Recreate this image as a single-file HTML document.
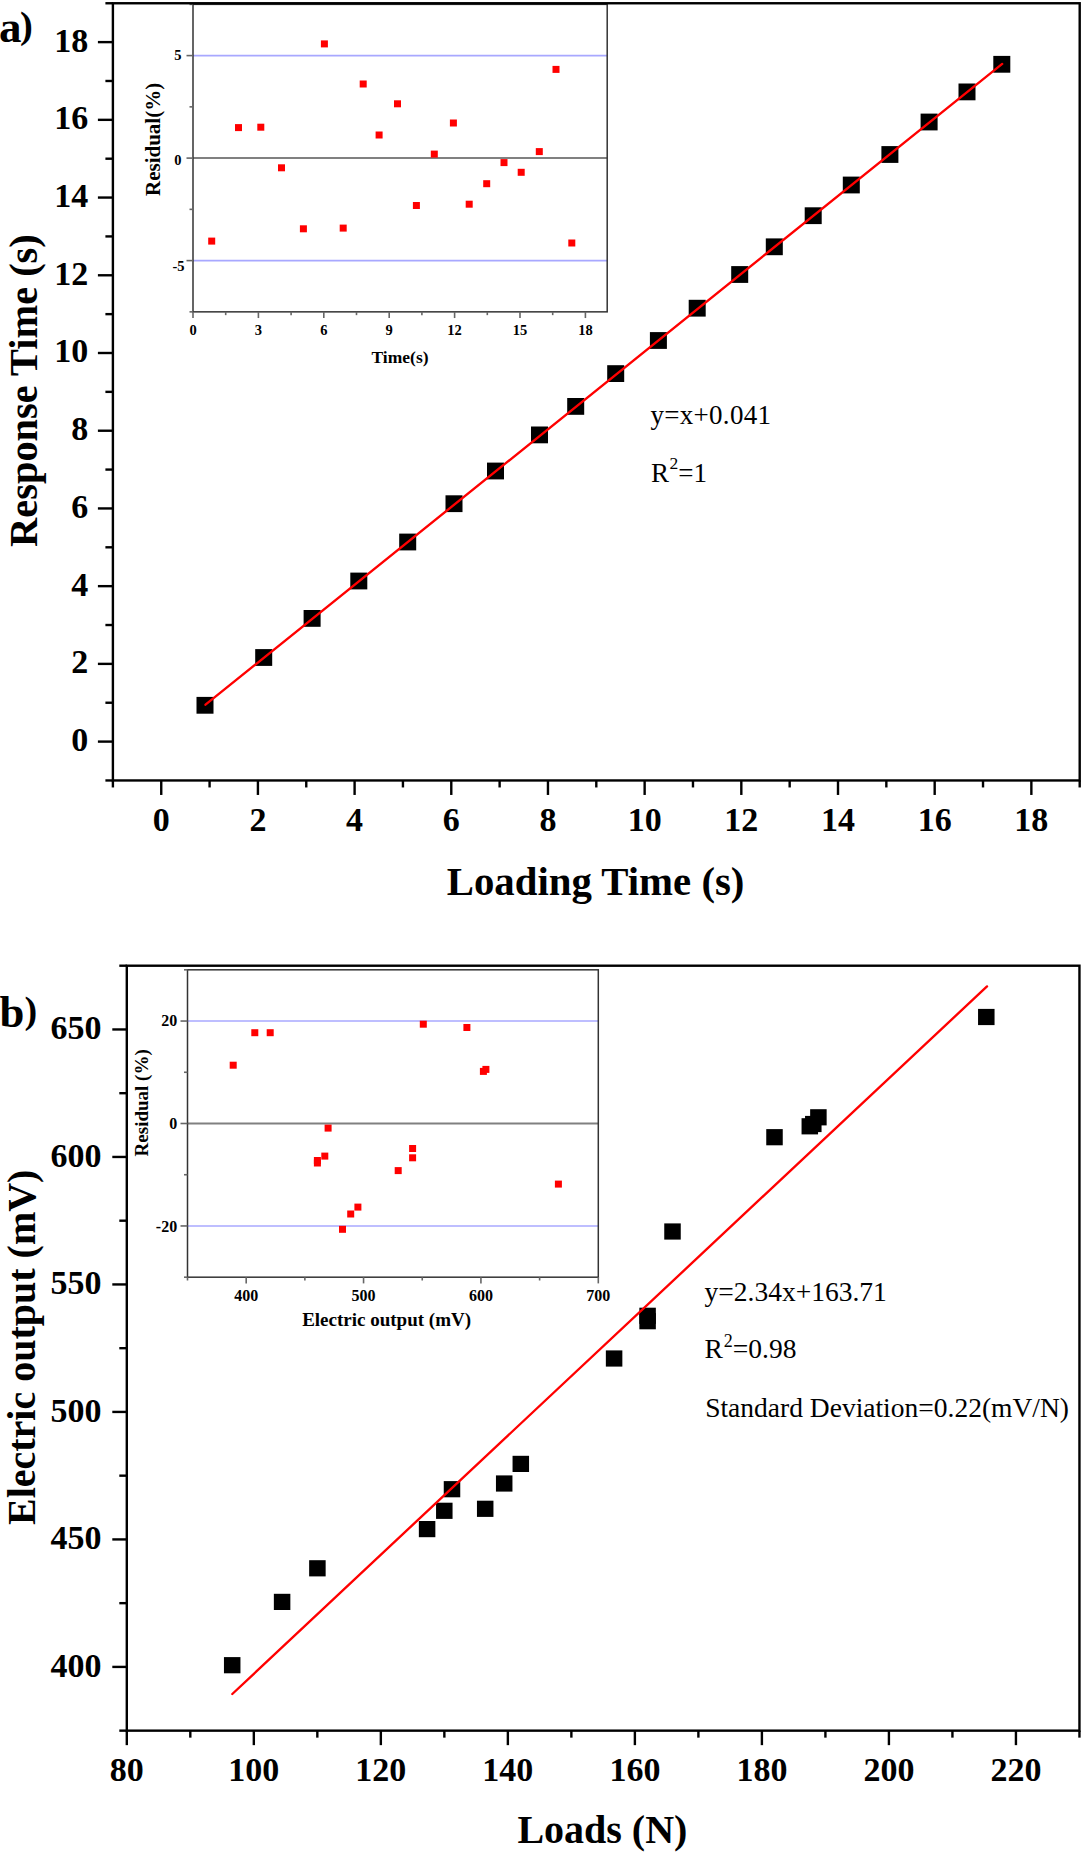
<!DOCTYPE html>
<html><head><meta charset="utf-8"><style>
html,body{margin:0;padding:0;background:#fff;}
body{width:1083px;height:1853px;overflow:hidden;}
svg{display:block;font-family:"Liberation Serif", serif;}
</style></head><body>
<svg width="1083" height="1853" viewBox="0 0 1083 1853">
<rect width="1083" height="1853" fill="#fff"/>
<line x1="193.00" y1="55.60" x2="607.20" y2="55.60" stroke="#a8a8ff" stroke-width="1.6"/>
<line x1="193.00" y1="260.60" x2="607.20" y2="260.60" stroke="#a8a8ff" stroke-width="1.6"/>
<line x1="193.00" y1="158.10" x2="607.20" y2="158.10" stroke="#808080" stroke-width="2"/>
<rect x="193.00" y="4.35" width="414.20" height="307.50" fill="none" stroke="#333" stroke-width="1.5"/>
<line x1="186.50" y1="260.60" x2="193.00" y2="260.60" stroke="#666" stroke-width="1.6"/>
<line x1="186.50" y1="158.10" x2="193.00" y2="158.10" stroke="#666" stroke-width="1.6"/>
<line x1="186.50" y1="55.60" x2="193.00" y2="55.60" stroke="#666" stroke-width="1.6"/>
<line x1="189.50" y1="311.85" x2="193.00" y2="311.85" stroke="#666" stroke-width="1.6"/>
<line x1="189.50" y1="209.35" x2="193.00" y2="209.35" stroke="#666" stroke-width="1.6"/>
<line x1="189.50" y1="106.85" x2="193.00" y2="106.85" stroke="#666" stroke-width="1.6"/>
<line x1="189.50" y1="4.35" x2="193.00" y2="4.35" stroke="#666" stroke-width="1.6"/>
<line x1="193.00" y1="311.85" x2="193.00" y2="318.05" stroke="#666" stroke-width="1.6"/>
<line x1="258.40" y1="311.85" x2="258.40" y2="318.05" stroke="#666" stroke-width="1.6"/>
<line x1="323.80" y1="311.85" x2="323.80" y2="318.05" stroke="#666" stroke-width="1.6"/>
<line x1="389.20" y1="311.85" x2="389.20" y2="318.05" stroke="#666" stroke-width="1.6"/>
<line x1="454.60" y1="311.85" x2="454.60" y2="318.05" stroke="#666" stroke-width="1.6"/>
<line x1="520.00" y1="311.85" x2="520.00" y2="318.05" stroke="#666" stroke-width="1.6"/>
<line x1="585.40" y1="311.85" x2="585.40" y2="318.05" stroke="#666" stroke-width="1.6"/>
<line x1="225.70" y1="311.85" x2="225.70" y2="315.15" stroke="#666" stroke-width="1.6"/>
<line x1="291.10" y1="311.85" x2="291.10" y2="315.15" stroke="#666" stroke-width="1.6"/>
<line x1="356.50" y1="311.85" x2="356.50" y2="315.15" stroke="#666" stroke-width="1.6"/>
<line x1="421.90" y1="311.85" x2="421.90" y2="315.15" stroke="#666" stroke-width="1.6"/>
<line x1="487.30" y1="311.85" x2="487.30" y2="315.15" stroke="#666" stroke-width="1.6"/>
<line x1="552.70" y1="311.85" x2="552.70" y2="315.15" stroke="#666" stroke-width="1.6"/>
<text x="193.00" y="335.20" font-size="14.5" font-weight="bold" text-anchor="middle" >0</text>
<text x="258.40" y="335.20" font-size="14.5" font-weight="bold" text-anchor="middle" >3</text>
<text x="323.80" y="335.20" font-size="14.5" font-weight="bold" text-anchor="middle" >6</text>
<text x="389.20" y="335.20" font-size="14.5" font-weight="bold" text-anchor="middle" >9</text>
<text x="454.60" y="335.20" font-size="14.5" font-weight="bold" text-anchor="middle" >12</text>
<text x="520.00" y="335.20" font-size="14.5" font-weight="bold" text-anchor="middle" >15</text>
<text x="585.40" y="335.20" font-size="14.5" font-weight="bold" text-anchor="middle" >18</text>
<text x="181.50" y="60.20" font-size="14.5" font-weight="bold" text-anchor="end" >5</text>
<text x="181.50" y="164.60" font-size="14.5" font-weight="bold" text-anchor="end" >0</text>
<text x="184.50" y="270.80" font-size="14.5" font-weight="bold" text-anchor="end" >-5</text>
<text x="400.00" y="363.20" font-size="17.5" font-weight="bold" text-anchor="middle" >Time(s)</text>
<text transform="translate(159.80,139.40) rotate(-90)" x="0" y="0" font-size="21" font-weight="bold" text-anchor="middle" >Residual(%)</text>
<rect x="208.20" y="237.60" width="7.00" height="7.00" fill="#ff0000"/>
<rect x="235.00" y="124.10" width="7.00" height="7.00" fill="#ff0000"/>
<rect x="257.30" y="123.70" width="7.00" height="7.00" fill="#ff0000"/>
<rect x="278.00" y="164.30" width="7.00" height="7.00" fill="#ff0000"/>
<rect x="299.90" y="225.30" width="7.00" height="7.00" fill="#ff0000"/>
<rect x="320.90" y="40.40" width="7.00" height="7.00" fill="#ff0000"/>
<rect x="339.70" y="224.60" width="7.00" height="7.00" fill="#ff0000"/>
<rect x="359.70" y="80.50" width="7.00" height="7.00" fill="#ff0000"/>
<rect x="375.60" y="131.50" width="7.00" height="7.00" fill="#ff0000"/>
<rect x="394.00" y="100.30" width="7.00" height="7.00" fill="#ff0000"/>
<rect x="412.90" y="202.00" width="7.00" height="7.00" fill="#ff0000"/>
<rect x="430.80" y="150.60" width="7.00" height="7.00" fill="#ff0000"/>
<rect x="449.90" y="119.50" width="7.00" height="7.00" fill="#ff0000"/>
<rect x="465.70" y="200.70" width="7.00" height="7.00" fill="#ff0000"/>
<rect x="483.20" y="180.20" width="7.00" height="7.00" fill="#ff0000"/>
<rect x="500.50" y="159.10" width="7.00" height="7.00" fill="#ff0000"/>
<rect x="517.70" y="168.80" width="7.00" height="7.00" fill="#ff0000"/>
<rect x="535.80" y="148.10" width="7.00" height="7.00" fill="#ff0000"/>
<rect x="552.50" y="65.90" width="7.00" height="7.00" fill="#ff0000"/>
<rect x="568.30" y="239.50" width="7.00" height="7.00" fill="#ff0000"/>
<rect x="112.90" y="3.26" width="966.80" height="777.20" fill="none" stroke="#000" stroke-width="2.4"/>
<line x1="97.90" y1="741.60" x2="112.90" y2="741.60" stroke="#000" stroke-width="2.4"/>
<line x1="161.24" y1="780.46" x2="161.24" y2="794.96" stroke="#000" stroke-width="2.4"/>
<line x1="97.90" y1="663.88" x2="112.90" y2="663.88" stroke="#000" stroke-width="2.4"/>
<line x1="257.92" y1="780.46" x2="257.92" y2="794.96" stroke="#000" stroke-width="2.4"/>
<line x1="97.90" y1="586.16" x2="112.90" y2="586.16" stroke="#000" stroke-width="2.4"/>
<line x1="354.60" y1="780.46" x2="354.60" y2="794.96" stroke="#000" stroke-width="2.4"/>
<line x1="97.90" y1="508.44" x2="112.90" y2="508.44" stroke="#000" stroke-width="2.4"/>
<line x1="451.28" y1="780.46" x2="451.28" y2="794.96" stroke="#000" stroke-width="2.4"/>
<line x1="97.90" y1="430.72" x2="112.90" y2="430.72" stroke="#000" stroke-width="2.4"/>
<line x1="547.96" y1="780.46" x2="547.96" y2="794.96" stroke="#000" stroke-width="2.4"/>
<line x1="97.90" y1="353.00" x2="112.90" y2="353.00" stroke="#000" stroke-width="2.4"/>
<line x1="644.64" y1="780.46" x2="644.64" y2="794.96" stroke="#000" stroke-width="2.4"/>
<line x1="97.90" y1="275.28" x2="112.90" y2="275.28" stroke="#000" stroke-width="2.4"/>
<line x1="741.32" y1="780.46" x2="741.32" y2="794.96" stroke="#000" stroke-width="2.4"/>
<line x1="97.90" y1="197.56" x2="112.90" y2="197.56" stroke="#000" stroke-width="2.4"/>
<line x1="838.00" y1="780.46" x2="838.00" y2="794.96" stroke="#000" stroke-width="2.4"/>
<line x1="97.90" y1="119.84" x2="112.90" y2="119.84" stroke="#000" stroke-width="2.4"/>
<line x1="934.68" y1="780.46" x2="934.68" y2="794.96" stroke="#000" stroke-width="2.4"/>
<line x1="97.90" y1="42.12" x2="112.90" y2="42.12" stroke="#000" stroke-width="2.4"/>
<line x1="1031.36" y1="780.46" x2="1031.36" y2="794.96" stroke="#000" stroke-width="2.4"/>
<line x1="105.40" y1="780.46" x2="112.90" y2="780.46" stroke="#000" stroke-width="2.4"/>
<line x1="112.90" y1="780.46" x2="112.90" y2="787.46" stroke="#000" stroke-width="2.4"/>
<line x1="105.40" y1="702.74" x2="112.90" y2="702.74" stroke="#000" stroke-width="2.4"/>
<line x1="209.58" y1="780.46" x2="209.58" y2="787.46" stroke="#000" stroke-width="2.4"/>
<line x1="105.40" y1="625.02" x2="112.90" y2="625.02" stroke="#000" stroke-width="2.4"/>
<line x1="306.26" y1="780.46" x2="306.26" y2="787.46" stroke="#000" stroke-width="2.4"/>
<line x1="105.40" y1="547.30" x2="112.90" y2="547.30" stroke="#000" stroke-width="2.4"/>
<line x1="402.94" y1="780.46" x2="402.94" y2="787.46" stroke="#000" stroke-width="2.4"/>
<line x1="105.40" y1="469.58" x2="112.90" y2="469.58" stroke="#000" stroke-width="2.4"/>
<line x1="499.62" y1="780.46" x2="499.62" y2="787.46" stroke="#000" stroke-width="2.4"/>
<line x1="105.40" y1="391.86" x2="112.90" y2="391.86" stroke="#000" stroke-width="2.4"/>
<line x1="596.30" y1="780.46" x2="596.30" y2="787.46" stroke="#000" stroke-width="2.4"/>
<line x1="105.40" y1="314.14" x2="112.90" y2="314.14" stroke="#000" stroke-width="2.4"/>
<line x1="692.98" y1="780.46" x2="692.98" y2="787.46" stroke="#000" stroke-width="2.4"/>
<line x1="105.40" y1="236.42" x2="112.90" y2="236.42" stroke="#000" stroke-width="2.4"/>
<line x1="789.66" y1="780.46" x2="789.66" y2="787.46" stroke="#000" stroke-width="2.4"/>
<line x1="105.40" y1="158.70" x2="112.90" y2="158.70" stroke="#000" stroke-width="2.4"/>
<line x1="886.34" y1="780.46" x2="886.34" y2="787.46" stroke="#000" stroke-width="2.4"/>
<line x1="105.40" y1="80.98" x2="112.90" y2="80.98" stroke="#000" stroke-width="2.4"/>
<line x1="983.02" y1="780.46" x2="983.02" y2="787.46" stroke="#000" stroke-width="2.4"/>
<line x1="105.40" y1="3.26" x2="112.90" y2="3.26" stroke="#000" stroke-width="2.4"/>
<line x1="1079.70" y1="780.46" x2="1079.70" y2="787.46" stroke="#000" stroke-width="2.4"/>
<text x="88.30" y="751.00" font-size="34" font-weight="bold" text-anchor="end" >0</text>
<text x="161.24" y="831.30" font-size="34" font-weight="bold" text-anchor="middle" >0</text>
<text x="88.30" y="673.28" font-size="34" font-weight="bold" text-anchor="end" >2</text>
<text x="257.92" y="831.30" font-size="34" font-weight="bold" text-anchor="middle" >2</text>
<text x="88.30" y="595.56" font-size="34" font-weight="bold" text-anchor="end" >4</text>
<text x="354.60" y="831.30" font-size="34" font-weight="bold" text-anchor="middle" >4</text>
<text x="88.30" y="517.84" font-size="34" font-weight="bold" text-anchor="end" >6</text>
<text x="451.28" y="831.30" font-size="34" font-weight="bold" text-anchor="middle" >6</text>
<text x="88.30" y="440.12" font-size="34" font-weight="bold" text-anchor="end" >8</text>
<text x="547.96" y="831.30" font-size="34" font-weight="bold" text-anchor="middle" >8</text>
<text x="88.30" y="362.40" font-size="34" font-weight="bold" text-anchor="end" >10</text>
<text x="644.64" y="831.30" font-size="34" font-weight="bold" text-anchor="middle" >10</text>
<text x="88.30" y="284.68" font-size="34" font-weight="bold" text-anchor="end" >12</text>
<text x="741.32" y="831.30" font-size="34" font-weight="bold" text-anchor="middle" >12</text>
<text x="88.30" y="206.96" font-size="34" font-weight="bold" text-anchor="end" >14</text>
<text x="838.00" y="831.30" font-size="34" font-weight="bold" text-anchor="middle" >14</text>
<text x="88.30" y="129.24" font-size="34" font-weight="bold" text-anchor="end" >16</text>
<text x="934.68" y="831.30" font-size="34" font-weight="bold" text-anchor="middle" >16</text>
<text x="88.30" y="51.52" font-size="34" font-weight="bold" text-anchor="end" >18</text>
<text x="1031.36" y="831.30" font-size="34" font-weight="bold" text-anchor="middle" >18</text>
<text transform="translate(36.60,390.55) rotate(-90)" x="0" y="0" font-size="40.4" font-weight="bold" text-anchor="middle" >Response Time (s)</text>
<text x="595.60" y="895.20" font-size="40.8" font-weight="bold" text-anchor="middle" >Loading Time (s)</text>
<text x="-1.00" y="42.25" font-size="45" font-weight="bold" text-anchor="start" >a</text>
<text x="20.00" y="37.50" font-size="38.5" font-weight="bold" text-anchor="start" >)</text>
<rect x="196.50" y="696.90" width="17.00" height="16.80" fill="#000"/>
<rect x="255.20" y="649.10" width="17.00" height="16.80" fill="#000"/>
<rect x="303.60" y="610.00" width="17.00" height="16.80" fill="#000"/>
<rect x="350.30" y="572.60" width="17.00" height="16.80" fill="#000"/>
<rect x="399.20" y="533.60" width="17.00" height="16.80" fill="#000"/>
<rect x="445.50" y="495.30" width="17.00" height="16.80" fill="#000"/>
<rect x="487.00" y="462.60" width="17.00" height="16.80" fill="#000"/>
<rect x="531.00" y="426.50" width="17.00" height="16.80" fill="#000"/>
<rect x="567.20" y="398.00" width="17.00" height="16.80" fill="#000"/>
<rect x="607.20" y="365.20" width="17.00" height="16.80" fill="#000"/>
<rect x="649.90" y="332.10" width="17.00" height="16.80" fill="#000"/>
<rect x="688.70" y="299.80" width="17.00" height="16.80" fill="#000"/>
<rect x="731.20" y="266.10" width="17.00" height="16.80" fill="#000"/>
<rect x="765.80" y="238.40" width="17.00" height="16.80" fill="#000"/>
<rect x="804.70" y="207.30" width="17.00" height="16.80" fill="#000"/>
<rect x="842.80" y="176.60" width="17.00" height="16.80" fill="#000"/>
<rect x="881.40" y="146.10" width="17.00" height="16.80" fill="#000"/>
<rect x="920.60" y="113.60" width="17.00" height="16.80" fill="#000"/>
<rect x="958.50" y="83.50" width="17.00" height="16.80" fill="#000"/>
<rect x="993.30" y="55.90" width="17.00" height="16.80" fill="#000"/>
<line x1="205.50" y1="704.70" x2="1002.20" y2="63.90" stroke="#ff0000" stroke-width="2.35" stroke-linecap="round"/>
<text x="650.4" y="423.8" font-size="27" letter-spacing="0.3">y=x+0.041</text>
<text x="651" y="481.8" font-size="27">R<tspan dx="0.5" dy="-13" font-size="17.5">2</tspan><tspan dy="13">=1</tspan></text>
<line x1="187.50" y1="1021.04" x2="598.30" y2="1021.04" stroke="#a8a8ff" stroke-width="1.6"/>
<line x1="187.50" y1="1225.96" x2="598.30" y2="1225.96" stroke="#a8a8ff" stroke-width="1.6"/>
<line x1="187.50" y1="1123.50" x2="598.30" y2="1123.50" stroke="#808080" stroke-width="2"/>
<rect x="187.50" y="969.81" width="410.80" height="307.38" fill="none" stroke="#333" stroke-width="1.5"/>
<line x1="180.50" y1="1225.96" x2="187.50" y2="1225.96" stroke="#666" stroke-width="1.6"/>
<line x1="180.50" y1="1123.50" x2="187.50" y2="1123.50" stroke="#666" stroke-width="1.6"/>
<line x1="180.50" y1="1021.04" x2="187.50" y2="1021.04" stroke="#666" stroke-width="1.6"/>
<line x1="184.00" y1="1277.19" x2="187.50" y2="1277.19" stroke="#666" stroke-width="1.6"/>
<line x1="184.00" y1="1174.73" x2="187.50" y2="1174.73" stroke="#666" stroke-width="1.6"/>
<line x1="184.00" y1="1072.27" x2="187.50" y2="1072.27" stroke="#666" stroke-width="1.6"/>
<line x1="184.00" y1="969.81" x2="187.50" y2="969.81" stroke="#666" stroke-width="1.6"/>
<line x1="246.19" y1="1277.19" x2="246.19" y2="1283.39" stroke="#666" stroke-width="1.6"/>
<line x1="363.56" y1="1277.19" x2="363.56" y2="1283.39" stroke="#666" stroke-width="1.6"/>
<line x1="480.93" y1="1277.19" x2="480.93" y2="1283.39" stroke="#666" stroke-width="1.6"/>
<line x1="598.30" y1="1277.19" x2="598.30" y2="1283.39" stroke="#666" stroke-width="1.6"/>
<line x1="187.50" y1="1277.19" x2="187.50" y2="1280.49" stroke="#666" stroke-width="1.6"/>
<line x1="304.87" y1="1277.19" x2="304.87" y2="1280.49" stroke="#666" stroke-width="1.6"/>
<line x1="422.24" y1="1277.19" x2="422.24" y2="1280.49" stroke="#666" stroke-width="1.6"/>
<line x1="539.61" y1="1277.19" x2="539.61" y2="1280.49" stroke="#666" stroke-width="1.6"/>
<text x="246.19" y="1301.30" font-size="16" font-weight="bold" text-anchor="middle" >400</text>
<text x="363.56" y="1301.30" font-size="16" font-weight="bold" text-anchor="middle" >500</text>
<text x="480.93" y="1301.30" font-size="16" font-weight="bold" text-anchor="middle" >600</text>
<text x="598.30" y="1301.30" font-size="16" font-weight="bold" text-anchor="middle" >700</text>
<text x="177.20" y="1026.10" font-size="16" font-weight="bold" text-anchor="end" >20</text>
<text x="177.20" y="1128.90" font-size="16" font-weight="bold" text-anchor="end" >0</text>
<text x="177.20" y="1231.70" font-size="16" font-weight="bold" text-anchor="end" >-20</text>
<text x="386.60" y="1326.00" font-size="19" font-weight="bold" text-anchor="middle" >Electric output (mV)</text>
<text transform="translate(147.80,1102.80) rotate(-90)" x="0" y="0" font-size="19" font-weight="bold" text-anchor="middle" >Residual (%)</text>
<rect x="229.70" y="1061.70" width="7.00" height="7.00" fill="#ff0000"/>
<rect x="251.30" y="1029.20" width="7.00" height="7.00" fill="#ff0000"/>
<rect x="266.70" y="1029.20" width="7.00" height="7.00" fill="#ff0000"/>
<rect x="313.90" y="1157.00" width="7.00" height="7.00" fill="#ff0000"/>
<rect x="313.90" y="1159.50" width="7.00" height="7.00" fill="#ff0000"/>
<rect x="321.30" y="1152.60" width="7.00" height="7.00" fill="#ff0000"/>
<rect x="324.60" y="1124.60" width="7.00" height="7.00" fill="#ff0000"/>
<rect x="339.00" y="1225.80" width="7.00" height="7.00" fill="#ff0000"/>
<rect x="347.20" y="1210.50" width="7.00" height="7.00" fill="#ff0000"/>
<rect x="354.40" y="1203.60" width="7.00" height="7.00" fill="#ff0000"/>
<rect x="394.70" y="1167.10" width="7.00" height="7.00" fill="#ff0000"/>
<rect x="409.10" y="1145.00" width="7.00" height="7.00" fill="#ff0000"/>
<rect x="409.10" y="1154.30" width="7.00" height="7.00" fill="#ff0000"/>
<rect x="419.80" y="1020.70" width="7.00" height="7.00" fill="#ff0000"/>
<rect x="463.40" y="1024.00" width="7.00" height="7.00" fill="#ff0000"/>
<rect x="479.90" y="1067.90" width="7.00" height="7.00" fill="#ff0000"/>
<rect x="482.40" y="1065.90" width="7.00" height="7.00" fill="#ff0000"/>
<rect x="554.90" y="1180.60" width="7.00" height="7.00" fill="#ff0000"/>
<rect x="126.80" y="965.71" width="952.65" height="764.94" fill="none" stroke="#000" stroke-width="2.4"/>
<line x1="112.30" y1="1666.91" x2="126.80" y2="1666.91" stroke="#000" stroke-width="2.4"/>
<line x1="112.30" y1="1539.42" x2="126.80" y2="1539.42" stroke="#000" stroke-width="2.4"/>
<line x1="112.30" y1="1411.93" x2="126.80" y2="1411.93" stroke="#000" stroke-width="2.4"/>
<line x1="112.30" y1="1284.44" x2="126.80" y2="1284.44" stroke="#000" stroke-width="2.4"/>
<line x1="112.30" y1="1156.95" x2="126.80" y2="1156.95" stroke="#000" stroke-width="2.4"/>
<line x1="112.30" y1="1029.46" x2="126.80" y2="1029.46" stroke="#000" stroke-width="2.4"/>
<line x1="119.30" y1="1730.65" x2="126.80" y2="1730.65" stroke="#000" stroke-width="2.4"/>
<line x1="119.30" y1="1603.16" x2="126.80" y2="1603.16" stroke="#000" stroke-width="2.4"/>
<line x1="119.30" y1="1475.67" x2="126.80" y2="1475.67" stroke="#000" stroke-width="2.4"/>
<line x1="119.30" y1="1348.18" x2="126.80" y2="1348.18" stroke="#000" stroke-width="2.4"/>
<line x1="119.30" y1="1220.69" x2="126.80" y2="1220.69" stroke="#000" stroke-width="2.4"/>
<line x1="119.30" y1="1093.20" x2="126.80" y2="1093.20" stroke="#000" stroke-width="2.4"/>
<line x1="119.30" y1="965.71" x2="126.80" y2="965.71" stroke="#000" stroke-width="2.4"/>
<line x1="126.80" y1="1730.65" x2="126.80" y2="1745.15" stroke="#000" stroke-width="2.4"/>
<line x1="253.82" y1="1730.65" x2="253.82" y2="1745.15" stroke="#000" stroke-width="2.4"/>
<line x1="380.84" y1="1730.65" x2="380.84" y2="1745.15" stroke="#000" stroke-width="2.4"/>
<line x1="507.86" y1="1730.65" x2="507.86" y2="1745.15" stroke="#000" stroke-width="2.4"/>
<line x1="634.88" y1="1730.65" x2="634.88" y2="1745.15" stroke="#000" stroke-width="2.4"/>
<line x1="761.90" y1="1730.65" x2="761.90" y2="1745.15" stroke="#000" stroke-width="2.4"/>
<line x1="888.92" y1="1730.65" x2="888.92" y2="1745.15" stroke="#000" stroke-width="2.4"/>
<line x1="1015.94" y1="1730.65" x2="1015.94" y2="1745.15" stroke="#000" stroke-width="2.4"/>
<line x1="190.31" y1="1730.65" x2="190.31" y2="1737.65" stroke="#000" stroke-width="2.4"/>
<line x1="317.33" y1="1730.65" x2="317.33" y2="1737.65" stroke="#000" stroke-width="2.4"/>
<line x1="444.35" y1="1730.65" x2="444.35" y2="1737.65" stroke="#000" stroke-width="2.4"/>
<line x1="571.37" y1="1730.65" x2="571.37" y2="1737.65" stroke="#000" stroke-width="2.4"/>
<line x1="698.39" y1="1730.65" x2="698.39" y2="1737.65" stroke="#000" stroke-width="2.4"/>
<line x1="825.41" y1="1730.65" x2="825.41" y2="1737.65" stroke="#000" stroke-width="2.4"/>
<line x1="952.43" y1="1730.65" x2="952.43" y2="1737.65" stroke="#000" stroke-width="2.4"/>
<line x1="1079.45" y1="1730.65" x2="1079.45" y2="1737.65" stroke="#000" stroke-width="2.4"/>
<text x="101.50" y="1676.91" font-size="34" font-weight="bold" text-anchor="end" >400</text>
<text x="101.50" y="1549.42" font-size="34" font-weight="bold" text-anchor="end" >450</text>
<text x="101.50" y="1421.93" font-size="34" font-weight="bold" text-anchor="end" >500</text>
<text x="101.50" y="1294.44" font-size="34" font-weight="bold" text-anchor="end" >550</text>
<text x="101.50" y="1166.95" font-size="34" font-weight="bold" text-anchor="end" >600</text>
<text x="101.50" y="1039.46" font-size="34" font-weight="bold" text-anchor="end" >650</text>
<text x="126.80" y="1780.60" font-size="34" font-weight="bold" text-anchor="middle" >80</text>
<text x="253.82" y="1780.60" font-size="34" font-weight="bold" text-anchor="middle" >100</text>
<text x="380.84" y="1780.60" font-size="34" font-weight="bold" text-anchor="middle" >120</text>
<text x="507.86" y="1780.60" font-size="34" font-weight="bold" text-anchor="middle" >140</text>
<text x="634.88" y="1780.60" font-size="34" font-weight="bold" text-anchor="middle" >160</text>
<text x="761.90" y="1780.60" font-size="34" font-weight="bold" text-anchor="middle" >180</text>
<text x="888.92" y="1780.60" font-size="34" font-weight="bold" text-anchor="middle" >200</text>
<text x="1015.94" y="1780.60" font-size="34" font-weight="bold" text-anchor="middle" >220</text>
<text transform="translate(35.30,1347.30) rotate(-90)" x="0" y="0" font-size="40" font-weight="bold" text-anchor="middle" >Electric output (mV)</text>
<text x="602.40" y="1843.40" font-size="40" font-weight="bold" text-anchor="middle" >Loads (N)</text>
<text x="-0.60" y="1027.15" font-size="44.7" font-weight="bold" text-anchor="start" >b</text>
<text x="24.50" y="1022.50" font-size="38.1" font-weight="bold" text-anchor="start" >)</text>
<rect x="223.95" y="1657.10" width="16.50" height="16.20" fill="#000"/>
<rect x="273.85" y="1593.80" width="16.50" height="16.20" fill="#000"/>
<rect x="309.15" y="1560.20" width="16.50" height="16.20" fill="#000"/>
<rect x="418.85" y="1521.00" width="16.50" height="16.20" fill="#000"/>
<rect x="436.05" y="1502.70" width="16.50" height="16.20" fill="#000"/>
<rect x="443.75" y="1481.10" width="16.50" height="16.20" fill="#000"/>
<rect x="476.95" y="1500.70" width="16.50" height="16.20" fill="#000"/>
<rect x="495.95" y="1475.40" width="16.50" height="16.20" fill="#000"/>
<rect x="512.55" y="1455.80" width="16.50" height="16.20" fill="#000"/>
<rect x="605.85" y="1350.40" width="16.50" height="16.20" fill="#000"/>
<rect x="639.35" y="1307.70" width="16.50" height="16.20" fill="#000"/>
<rect x="639.35" y="1313.10" width="16.50" height="16.20" fill="#000"/>
<rect x="664.25" y="1223.40" width="16.50" height="16.20" fill="#000"/>
<rect x="766.25" y="1129.10" width="16.50" height="16.20" fill="#000"/>
<rect x="801.55" y="1118.20" width="16.50" height="16.20" fill="#000"/>
<rect x="805.05" y="1115.90" width="16.50" height="16.20" fill="#000"/>
<rect x="810.15" y="1109.20" width="16.50" height="16.20" fill="#000"/>
<rect x="978.05" y="1008.90" width="16.50" height="16.20" fill="#000"/>
<line x1="232.30" y1="1694.00" x2="987.00" y2="986.40" stroke="#ff0000" stroke-width="2.35" stroke-linecap="round"/>
<text x="704.5" y="1300.8" font-size="27.5">y=2.34x+163.71</text>
<text x="704.5" y="1358.2" font-size="27.5">R<tspan dx="1" dy="-11" font-size="18">2</tspan><tspan dy="11">=0.98</tspan></text>
<text x="705.2" y="1417" font-size="27.5">Standard Deviation=0.22(mV/N)</text>
</svg>
</body></html>
